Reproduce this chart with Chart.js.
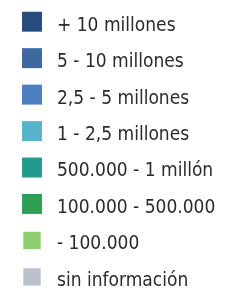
<!DOCTYPE html>
<html>
<head>
<meta charset="utf-8">
<script src="https://cdn.jsdelivr.net/npm/chart.js@4.4.0/dist/chart.umd.min.js"></script>
<style>
  html, body { margin: 0; padding: 0; background: #ffffff; }
  #wrap { width: 246px; height: 291px; }
</style>
</head>
<body>
<div id="wrap"><canvas id="leyenda"></canvas></div>
<script>
// Categorías de la leyenda (rangos de población)
const categorias = [
  "+ 10 millones",
  "5 - 10 millones",
  "2,5 - 5 millones",
  "1 - 2,5 millones",
  "500.000 - 1 millón",
  "100.000 - 500.000",
  "- 100.000",
  "sin información"
];

// Cada casilla vale lo mismo, solo es la muestra de color
const valores = [1, 1, 1, 1, 1, 1, 1, 1];

const colores = [
  "#274b7c",
  "#3b69a0",
  "#4c7fbf",
  "#58b4ca",
  "#239a8e",
  "#2e9f55",
  "#8dce6f",
  "#bcc2cd"
];

const ctx = document.getElementById("leyenda");

new Chart(ctx, {
  type: "scatter",
  data: {
    datasets: [
      {
        data: categorias.map((c, i) => ({ x: valores[i], y: c })),
        backgroundColor: colores,
        borderWidth: 0,
        pointStyle: "rect",
        // las dos últimas casillas son algo más pequeñas
        pointRadius: [14.1, 14.1, 14.1, 14.1, 14.1, 14.1, 12.3, 12.3],
        clip: false
      }
    ]
  },
  options: {
    responsive: true,
    maintainAspectRatio: false,
    animation: false,
    events: [],
    layout: { padding: { left: 22, top: 21.7, bottom: 9.7, right: 0 } },
    plugins: {
      legend: { display: false },
      tooltip: { enabled: false }
    },
    scales: {
      x: { type: "linear", display: false, min: 0, max: 2 },
      y: {
        type: "category",
        labels: categorias,
        position: "right",
        offset: false,
        grid: { display: false, drawTicks: false },
        border: { display: false },
        ticks: {
          padding: 15,
          labelOffset: 4,
          color: "#2b2b2b",
          font: { family: "'DejaVu Sans Condensed', sans-serif", size: 19 }
        },
        afterFit(scale) {
          scale.width = 204;
          scale.paddingTop = 0;
          scale.paddingBottom = 0;
        }
      }
    }
  }
});
</script>
</body>
</html>
